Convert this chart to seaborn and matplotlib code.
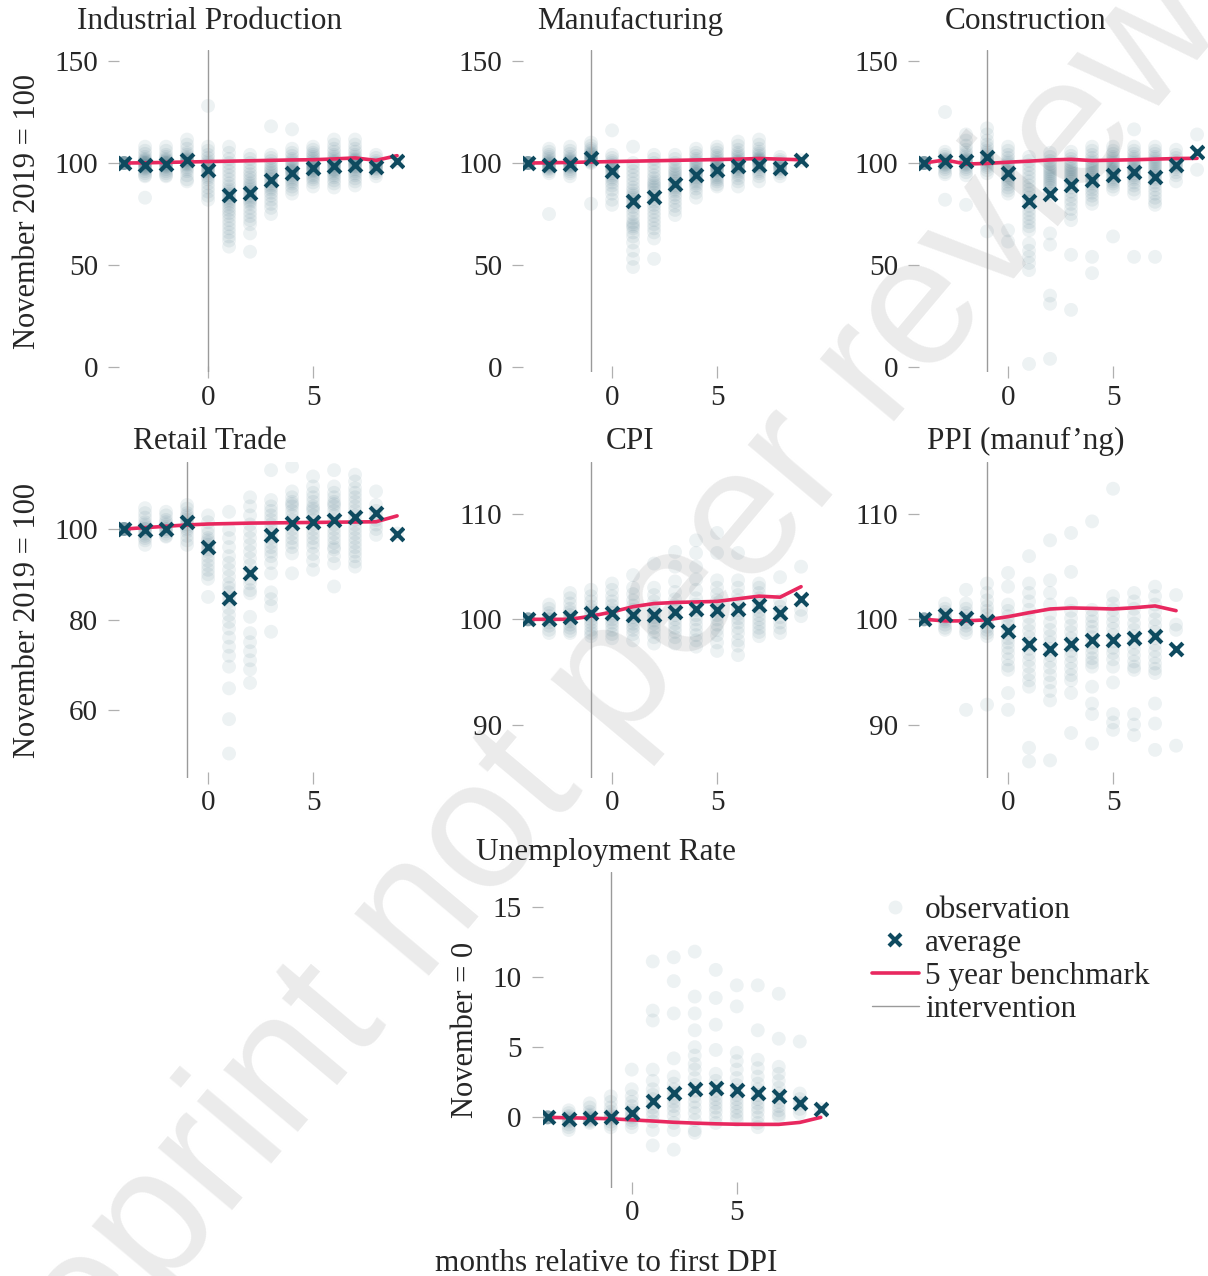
import pandas as pd
import matplotlib
matplotlib.use("Agg")
import matplotlib.pyplot as plt
from matplotlib.lines import Line2D
import seaborn as sns

# months relative to first DPI
months = list(range(-4, 10))
ppi_months = list(range(-4, 9))

ip_obs = [
    [100, 100, 100, 100, 100, 100, 100, 100, 100, 100],
    [108, 106, 104.5, 103, 102, 101.5, 101, 100.5, 100, 100, 99.5, 99, 98.5, 98, 97.5, 97, 96, 95, 94, 93.5, 83],
    [108, 106, 104, 103, 102, 101.5, 101, 100.5, 100, 100, 99.5, 99, 98.5, 98, 97, 96, 95, 94, 93.5],
    [111.5, 109, 107, 105, 104, 103, 102.5, 102, 101.5, 101, 100.5, 100, 99.5, 99, 98, 97, 96, 94, 92, 91],
    [128, 108, 106, 104, 102.5, 101, 100, 99, 98.5, 98, 97, 96.5, 96, 95, 94, 93, 92, 90, 88, 86, 84, 82],
    [108, 105, 102, 100, 98, 96, 94, 92, 90, 88.5, 87, 86, 85, 84, 83, 82, 81, 80, 78.5, 77, 75.5, 74, 72, 70, 68, 66, 64, 62, 59],
    [104, 102, 100, 98, 96, 94.5, 93, 91.5, 90, 89, 88, 87, 86, 85, 84, 83, 82, 81, 80, 78, 76, 74, 72, 70, 65.5, 56.5],
    [118, 104, 102.5, 101, 99.5, 98, 97, 96, 95, 94, 93, 92, 91, 90, 89, 88, 87, 85.5, 84, 82, 80, 78, 75],
    [116.5, 107, 105, 103.5, 102, 101, 100, 99, 98, 97, 96.5, 96, 95.5, 95, 94, 93, 92, 91, 90, 88.5, 87, 85],
    [108, 106.5, 105, 104, 103, 102, 101, 100, 99.5, 99, 98.5, 98, 97.5, 97, 96.5, 96, 95, 94, 93, 92, 90.5, 88.5],
    [111.5, 109, 107, 105.5, 104, 103, 102, 101, 100.5, 100, 99.5, 99, 98.5, 98, 97, 96.5, 96, 95, 94, 93, 91.5, 90, 88],
    [111.5, 109, 107, 105.5, 104, 103, 102, 101.5, 101, 100.5, 100, 99.5, 99, 98.5, 98, 97, 96, 95, 94, 92.5, 91, 89],
    [104, 102.5, 101, 100, 99.5, 99, 98.5, 98, 97.5, 97, 96, 95, 93.5],
    [101],
]
ip_avg = [100, 99.2, 99.5, 101.6, 96.7, 84.4, 85.2, 91.5, 95, 97.5, 98.4, 99, 98, 101.1]
ip_bench = [100, 100.1, 100.3, 100.5, 100.7, 100.9, 101.1, 101.3, 101.5, 101.6, 102, 102.5, 101.3, 103.6]

mfg_obs = [
    [100, 100, 100, 100, 100, 100, 100, 100, 100, 100],
    [107, 105.5, 104, 103, 102, 101, 100.5, 100, 99.5, 99, 98.5, 98, 97.5, 97, 96, 95, 75],
    [108, 106, 104.5, 103, 102, 101.5, 101, 100.5, 100, 99.5, 99, 98.5, 98, 97, 96, 95, 93.5],
    [110, 108.5, 107, 106, 105, 104.5, 104, 103.5, 103, 102.5, 102, 101.5, 101, 100.5, 100, 80],
    [116, 104, 102.5, 101, 100, 99, 98.5, 98, 97.5, 97, 96, 95, 94, 93, 92, 90.5, 89, 87, 85, 82, 79.5],
    [108, 100, 98, 96, 94, 92, 90, 88, 86.5, 85, 84, 83, 82, 81, 80, 78.5, 77, 75, 73, 71, 70, 69, 68, 66, 64, 61, 57, 53, 49],
    [104, 102, 100, 98, 96, 94, 92.5, 91, 90, 89, 88, 87, 85.5, 84, 82.5, 81, 79.5, 78, 76, 74, 72, 70, 68, 66, 63, 53],
    [104, 102, 100, 98.5, 97, 96, 95, 94, 93, 92, 91, 90, 89, 88, 87, 86, 84.5, 83, 81, 79, 77, 74.5],
    [107, 105, 103.5, 102, 101, 100, 99, 98, 97, 96, 95.5, 95, 94.5, 94, 93, 92, 91, 90, 89, 87.5, 85.5, 83],
    [108, 106.5, 105, 103.5, 102.5, 101.5, 100.5, 100, 99, 98.5, 98, 97.5, 97, 96.5, 96, 95, 94, 93, 92, 91, 89.5, 88.5],
    [110.5, 108.5, 106.5, 105, 104, 103, 102, 101, 100.5, 100, 99.5, 99, 98.5, 98, 97.5, 97, 96, 95, 94, 92.5, 91, 88.5],
    [111.5, 109, 107, 105.5, 104.5, 103.5, 102.5, 102, 101.5, 101, 100.5, 100, 99.5, 99, 98, 97, 96, 95, 93.5, 91],
    [103, 101.5, 100.5, 99.5, 99, 98.5, 98, 97.5, 97, 96, 95, 93.5],
    [101.3],
]
mfg_avg = [100, 98.9, 99.7, 102.5, 96, 81.5, 83.3, 89.8, 94.3, 96.4, 98.4, 98.9, 97.5, 101.3]
mfg_bench = [100, 100.1, 100.3, 100.5, 100.7, 100.9, 101.1, 101.3, 101.5, 101.7, 101.9, 102.2, 101.9, 101.6]

con_obs = [
    [100, 100, 100, 100, 100, 100, 100, 100, 100, 100],
    [125, 105.5, 104, 103, 102, 101.5, 101, 100.5, 100, 99.5, 99, 98, 97, 95.5, 94.5, 82],
    [114, 111, 108.5, 106.5, 105, 104, 103, 102, 101.5, 101, 100.5, 100, 99.5, 99, 98, 97, 95.5, 94, 79.5],
    [117, 114, 111, 109, 107.5, 106, 105, 104, 103, 102.5, 102, 101.5, 101, 100, 99, 98, 96.5, 95, 66.5],
    [108, 106, 104, 102.5, 101, 100, 99, 98, 97, 96, 95, 94, 93, 92, 91, 89.5, 88, 86.5, 85, 67, 61.5],
    [103, 101, 99, 97, 95, 93, 91, 89, 87, 85, 83, 81, 79, 77, 75, 73, 71, 69, 67, 60.5, 57, 54, 51, 47.5, 1.5],
    [105, 103, 101, 99.5, 98, 97, 96, 95, 94, 93, 92, 91, 90, 89, 88, 86.5, 85, 65.5, 60, 35, 31, 4],
    [105.5, 103.5, 102, 100.5, 99, 98, 97, 96, 95, 94, 93, 92, 91, 89.5, 88, 86, 84, 82, 80, 77.5, 75, 72, 55, 28],
    [108, 106, 104, 102.5, 101, 100, 99, 98, 97, 96, 95, 94, 93, 92, 91, 90, 88.5, 87, 85.5, 84, 82, 80, 54, 46],
    [108, 106, 104.5, 103, 102, 101, 100, 99, 98, 97, 96.5, 96, 95.5, 95, 94, 93, 92, 91, 90, 88.5, 87, 64],
    [116.5, 108, 106, 104.5, 103, 102, 101, 100, 99, 98, 97, 96.5, 96, 95, 94, 93, 92, 90.5, 89, 87, 85, 54],
    [108, 106, 104.5, 103, 102, 101, 100, 99, 98, 97, 96, 95, 94, 93, 92, 90.5, 89, 87, 85, 83, 81, 79.5, 54],
    [106.5, 104, 102.5, 101, 100, 99.5, 99, 98, 97, 95.5, 94, 91],
    [114, 96.7],
]
con_avg = [100, 100.8, 100.8, 103, 95, 81.5, 84.8, 89.3, 91.8, 94, 95.4, 93, 98.9, 105.2]
con_bench = [100, 101.5, 99.5, 99.8, 100.4, 100.9, 101.5, 101.8, 101.2, 101.4, 101.6, 101.9, 102.2, 102.3]

ret_obs = [
    [100, 100, 100, 100, 100, 100, 100, 100, 100, 100],
    [104.6, 103.5, 102.5, 101.5, 101, 100.5, 100, 100, 99.5, 99, 98.5, 98, 97.5, 96.5],
    [103.8, 103, 102, 101.5, 101, 100.5, 100, 100, 99.5, 99, 98.5, 98.3],
    [105.3, 104.5, 103.5, 103, 102.5, 102, 101.5, 101, 100.5, 100, 99.5, 98.5, 97.5, 96.5],
    [103, 101.5, 100, 99, 98, 97.5, 97, 96.5, 96, 95.5, 95, 94, 93, 92, 91, 90, 89, 85],
    [103.8, 99.8, 98, 96, 94, 92.5, 91, 89.5, 88, 87, 86, 85, 84, 82.5, 81, 79.5, 78, 76, 74, 72, 69.6, 64.8, 58, 50.4],
    [107, 105, 103, 101, 99.5, 98, 96.5, 95, 93.5, 92, 90.5, 89, 88, 86.5, 85.8, 80.6, 77, 75, 73, 71, 69, 66],
    [113, 106.4, 105, 104, 103, 102, 101, 100, 99, 98, 97, 96, 95, 94, 92.5, 90.2, 86, 84.5, 83, 77.3],
    [113.8, 108.3, 107, 106, 105.5, 105, 104, 103, 102, 101, 100, 99, 98, 97, 96, 94.6, 90.2],
    [111.6, 109.4, 108, 107, 106, 105, 104.5, 104, 103, 102, 101, 100, 99, 98, 97, 96, 94.5, 93, 91],
    [113, 109.4, 108, 107, 106, 105.5, 105, 104, 103, 102, 101, 100, 99, 98, 97, 96, 95.5, 94, 92.4, 87.3],
    [112, 110.5, 109, 108, 107, 106, 105, 104, 103, 102, 101, 100, 99, 98, 97, 96, 95, 94, 92.8, 91.7],
    [108.3, 105.3, 104, 103, 102, 101, 100, 98.7],
    [99],
]
ret_avg = [100, 99.8, 100.1, 101.6, 96.1, 84.7, 90.2, 98.7, 101.3, 101.6, 102, 102.7, 103.5, 99]
ret_bench = [100, 100.3, 100.6, 100.9, 101.1, 101.2, 101.3, 101.35, 101.4, 101.45, 101.5, 101.55, 101.6, 102.9]

cpi_obs = [
    [100, 100, 100, 100, 100, 100, 100, 100],
    [101.4, 101, 100.6, 100.3, 100, 100, 99.7, 99.4, 99, 98.7],
    [102.5, 102, 101.5, 101, 100.7, 100.4, 100.2, 100, 99.8, 99.5, 99.2, 98.9, 98.7],
    [102.8, 102.2, 101.7, 101.2, 100.9, 100.6, 100.3, 100, 99.7, 99.4, 99, 98.7, 98.4],
    [103.4, 102.8, 102.2, 101.7, 101.3, 100.9, 100.6, 100.3, 100, 99.7, 99.4, 99, 98.6, 98.2],
    [104.2, 103, 102.4, 101.8, 101.3, 100.9, 100.5, 100.2, 99.9, 99.6, 99.3, 99, 98.6, 98],
    [105.3, 103, 102.3, 101.7, 101.2, 100.8, 100.5, 100.2, 99.9, 99.6, 99.2, 98.8, 98.3, 97.7],
    [106.4, 105, 103.6, 102.6, 101.9, 101.3, 100.8, 100.4, 100, 99.6, 99.2, 98.8, 98.3, 97.7],
    [107.5, 106.3, 105, 103.8, 102.8, 102, 101.4, 100.9, 100.4, 100, 99.5, 99, 98.5, 98, 97.4],
    [108.2, 106.3, 103.7, 103, 102.4, 101.8, 101.3, 100.8, 100.4, 100, 99.5, 99, 98.5, 97.8, 97],
    [106.3, 103.7, 103, 102.3, 101.8, 101.3, 100.9, 100.5, 100.1, 99.7, 99.2, 98.7, 98, 97.5, 96.6],
    [103.4, 103, 102.5, 102, 101.6, 101.2, 100.8, 100.4, 100, 99.6, 99.2, 98.8, 98.4],
    [104, 101.8, 101.2, 100.7, 100.2, 99.7, 99.2, 98.7],
    [105, 100.9, 100.3],
]
cpi_avg = [100, 100, 100.25, 100.6, 100.6, 100.4, 100.4, 100.7, 101, 100.9, 101, 101.4, 100.6, 101.9]
cpi_bench = [100, 100, 100, 100.3, 100.7, 101.2, 101.5, 101.6, 101.65, 101.7, 101.95, 102.2, 102.1, 103.1]

ppi_obs = [
    [100, 100, 100, 100, 100, 100, 100, 100],
    [101.5, 101, 100.7, 100.4, 100.2, 100, 99.8, 99.5, 99.2, 99],
    [102.8, 101.5, 101, 100.6, 100.3, 100, 99.7, 99.4, 99, 98.7, 91.4],
    [103.4, 102.5, 101.8, 101.2, 100.8, 100.4, 100, 99.7, 99.3, 99, 98.7, 98.4, 91.9],
    [104.4, 103.1, 101.4, 100.8, 100.3, 99.8, 99.4, 99, 98.6, 98.2, 97.8, 97.3, 96.8, 96.2, 95.6, 95.2, 93, 91.4],
    [106, 103.4, 102.5, 101.7, 100.9, 100.2, 99.5, 98.9, 98.3, 97.7, 97.2, 96.7, 96.1, 95.5, 94.8, 94.2, 93.6, 87.8, 86.5],
    [107.5, 103.7, 102.5, 101.4, 100.5, 99.7, 99, 98.4, 97.8, 97.2, 96.6, 96, 95.4, 94.7, 94, 93.2, 92.3, 86.6],
    [108.2, 104.5, 101.5, 100.8, 100.1, 99.4, 98.8, 98.2, 97.6, 97, 96.5, 95.9, 95.3, 94.7, 94.2, 93, 89.2],
    [109.3, 100.9, 100.3, 99.8, 99.3, 98.8, 98.3, 97.8, 97.3, 96.8, 96.3, 95.9, 95.5, 93.6, 92, 91, 88.2],
    [112.4, 102.2, 101.5, 100.9, 100.3, 99.7, 99.1, 98.5, 97.9, 97.3, 96.8, 96.2, 95.5, 94, 91, 90.2, 89.5],
    [102.5, 101.7, 101, 100.3, 99.6, 99, 98.4, 97.8, 97.2, 96.6, 96, 95.5, 95.2, 91, 90, 89],
    [103.1, 102.2, 101.4, 100.7, 100, 99.4, 98.8, 98.2, 97.6, 97, 96.4, 95.8, 95.3, 94.9, 92, 90.1, 87.6],
    [102.3, 99.5, 99, 88],
]
ppi_avg = [100, 100.4, 100.1, 99.8, 98.9, 97.7, 97.2, 97.7, 98, 98, 98.2, 98.4, 97.2]
ppi_bench = [100, 99.85, 99.85, 99.95, 100.25, 100.63, 100.98, 101.08, 101.04, 100.98, 101.1, 101.27, 100.82]

ur_obs = [
    [0, 0, 0, 0, 0, 0, 0, 0],
    [0.5, 0.3, 0.1, 0, -0.1, -0.2, -0.3, -0.5, -0.7, -0.9],
    [1, 0.7, 0.4, 0.2, 0.1, 0, -0.1, -0.2, -0.3, -0.4],
    [1.5, 1.1, 0.7, 0.4, 0.2, 0.1, 0, -0.1, -0.3, -0.5, -0.7],
    [3.4, 2, 1.5, 1.1, 0.8, 0.5, 0.3, 0.1, 0, -0.2, -0.4, -0.7],
    [11.1, 7.6, 6.9, 3.4, 2.6, 2, 1.6, 1.3, 1, 0.7, 0.4, 0.1, -0.3, -0.9, -2],
    [11.4, 9.7, 7.4, 4.2, 2.9, 2.4, 2, 1.7, 1.4, 1.1, 0.8, 0.5, 0.1, -0.4, -0.9, -2.3],
    [11.8, 8.6, 7.4, 6.2, 5, 4.4, 3.8, 3.4, 2.8, 2.3, 1.9, 1.5, 1.1, 0.7, 0.3, -0.2, -0.9, -1.1],
    [10.5, 8.5, 6.6, 4.8, 3.1, 2.6, 2.2, 1.9, 1.6, 1.3, 1, 0.7, 0.4, 0, -0.4],
    [9.4, 7.9, 4.6, 4, 3.4, 2.8, 2.3, 1.9, 1.6, 1.3, 1, 0.7, 0.4, 0.1, -0.2],
    [9.4, 6.2, 4.1, 3.5, 2.9, 2.4, 2, 1.6, 1.3, 1, 0.7, 0.4, 0, -0.4, -0.7],
    [8.8, 5.6, 3.6, 3.1, 2.6, 2.1, 1.7, 1.4, 1.1, 0.8, 0.5, 0.2, 0],
    [5.4, 1.7, 1.3, 1, 0.6, 0.3],
    [0.57],
]
ur_avg = [0, -0.15, -0.05, 0, 0.3, 1.2, 1.7, 2, 2.07, 1.95, 1.75, 1.55, 1.05, 0.57]
ur_bench = [0, -0.03, -0.06, -0.1, -0.18, -0.26, -0.35, -0.41, -0.46, -0.49, -0.5, -0.5, -0.36, 0]

TEAL = "#0e4a5f"
PINK = "#e8285f"
VLINE = "#9a9a9a"
TICKC = "#b0b0b0"

sns.set_style("white")
plt.rcParams["font.family"] = ["Liberation Serif", "DejaVu Serif"]

W, H = 1208, 1276
fig = plt.figure(figsize=(W / 100, H / 100), dpi=100)

# watermark behind everything (runs off the page, as in the original)
fig.text(572 / W, 1 - 732 / H, "preprint not peer review", rotation=50,
         rotation_mode="anchor", ha="center", va="center", fontsize=132,
         color="#ebebeb", family="Liberation Sans", zorder=-1)

panels = [
    ("Industrial Production", months, ip_obs, ip_avg, ip_bench, 0, (-2.45, 155.4), [0, 50, 100, 150], 119, 50, 322, 210, 29, "November 2019 = 100"),
    ("Manufacturing", months, mfg_obs, mfg_avg, mfg_bench, -1, (-2.45, 155.4), [0, 50, 100, 150], 523, 50, 322, 630, 29, ""),
    ("Construction", months, con_obs, con_avg, con_bench, -1, (-2.45, 155.4), [0, 50, 100, 150], 919, 50, 322, 1026, 29, ""),
    ("Retail Trade", months, ret_obs, ret_avg, ret_bench, -1, (45, 114.8), [60, 80, 100], 119, 462, 316, 210, 449, "November 2019 = 100"),
    ("CPI", months, cpi_obs, cpi_avg, cpi_bench, -1, (84.93, 114.94), [90, 100, 110], 523, 462, 316, 630, 449, ""),
    ("PPI (manuf\u2019ng)", ppi_months, ppi_obs, ppi_avg, ppi_bench, -1, (84.93, 114.94), [90, 100, 110], 919, 462, 316, 1026, 449, ""),
    ("Unemployment Rate", months, ur_obs, ur_avg, ur_bench, -1, (-5.03, 17.47), [0, 5, 10, 15], 542.7, 872, 316, 606, 860, "November = 0"),
]

for title, mo, obs, avg, bench, vx, ylim, yticks, left, top, height, tx, ty, ylab in panels:
    ax = fig.add_axes([left / W, 1 - (top + height) / H, 285 / W, height / H])
    ax.set_facecolor("none")
    df = pd.DataFrame([(m, v) for m, col in zip(mo, obs) for v in col], columns=["month", "value"])
    sns.scatterplot(data=df, x="month", y="value", ax=ax, color=TEAL, alpha=0.07,
                    s=100, edgecolor="none", legend=False, zorder=1)
    ax.axvline(vx, color=VLINE, lw=1, zorder=2)
    sns.lineplot(x=mo, y=bench, ax=ax, color=PINK, lw=2.6, zorder=3)
    sns.scatterplot(x=mo, y=avg, ax=ax, color=TEAL, marker="x", s=85, linewidth=3,
                    legend=False, zorder=4)
    ax.set_xlim(-4.24, 9.33)
    ax.set_ylim(*ylim)
    ax.set_xticks([0, 5])
    ax.set_yticks(yticks)
    ax.set_xlabel("")
    ax.set_ylabel(ylab, fontsize=22, labelpad=9)
    sns.despine(ax=ax, left=True, bottom=True)
    ax.tick_params(axis="y", left=True, direction="out", length=8, width=0.9,
                   color=TICKC, pad=7, labelsize=21)
    ax.tick_params(axis="x", bottom=True, direction="inout", length=8, width=0.9,
                   color=TICKC, pad=5, labelsize=21)
    fig.text(tx / W, 1 - ty / H, title, ha="center", va="baseline", fontsize=22.5)

fig.text(606 / W, 1 - 1271 / H, "months relative to first DPI", ha="center",
         va="baseline", fontsize=22.5)

handles = [
    Line2D([], [], marker="o", color=TEAL, alpha=0.07, ls="none", markersize=10, mec="none"),
    Line2D([], [], marker="x", color=TEAL, ls="none", markersize=9, mew=3),
    Line2D([], [], color=PINK, lw=2.6),
    Line2D([], [], color=VLINE, lw=1),
]
labels = ["observation", "average", "5 year benchmark", "intervention"]
fig.legend(handles, labels, loc="upper left", bbox_to_anchor=(872 / W, 1 - 896 / H),
           frameon=False, fontsize=22.5, borderpad=0, borderaxespad=0,
           handlelength=1.5, handletextpad=0.2, labelspacing=0.12)

fig.savefig("out.png", dpi=100)
